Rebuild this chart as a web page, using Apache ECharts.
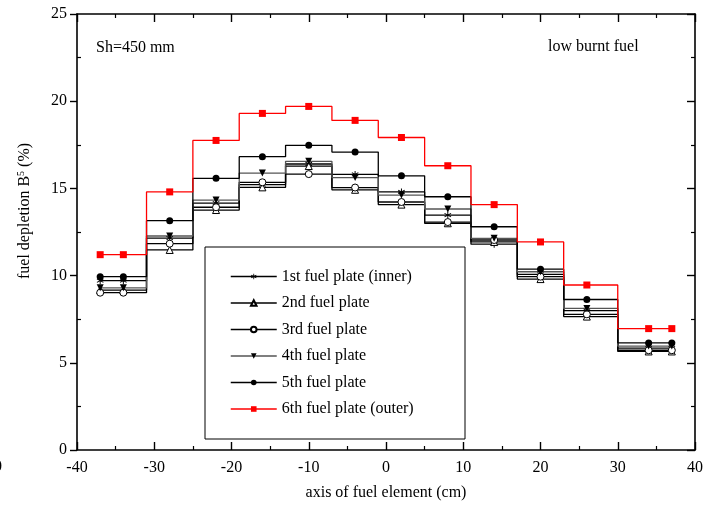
<!DOCTYPE html>
<html>
<head>
<meta charset="utf-8">
<title>fuel depletion along fuel element</title>
<script src="https://cdn.jsdelivr.net/npm/echarts@6/dist/echarts.min.js"></script>
<style>
  html, body { margin: 0; padding: 0; background: #fff; }
  #chart { width: 706px; height: 509px; }
</style>
</head>
<body>
<div id="chart"></div>
<script>
// Axial positions of the calculation points (cm)
const axialPos = [-37, -34, -28, -22, -16, -10, -4, 2, 8, 14, 20, 26, 34, 37];

// Fuel depletion per plate (%)
const plate1 = [9.71, 9.71, 12.15, 14.15, 15.22, 16.40, 15.80, 14.80, 13.47, 11.80, 10.07, 7.99, 5.84, 5.84];
const plate2 = [9.17, 9.17, 11.47, 13.76, 15.06, 16.28, 14.92, 14.07, 13.00, 11.93, 9.80, 7.65, 5.65, 5.65];
const plate3 = [9.02, 9.02, 11.83, 13.92, 15.35, 15.82, 15.05, 14.22, 13.07, 12.04, 9.94, 7.78, 5.72, 5.72];
const plate4 = [9.30, 9.30, 12.27, 14.33, 15.88, 16.55, 15.62, 14.62, 13.82, 12.14, 10.22, 8.12, 5.96, 5.96];
const plate5 = [9.94, 9.94, 13.15, 15.58, 16.82, 17.47, 17.08, 15.72, 14.52, 12.80, 10.37, 8.63, 6.14, 6.14];
const plate6 = [11.20, 11.20, 14.80, 17.75, 19.30, 19.70, 18.90, 17.92, 16.30, 14.07, 11.93, 9.46, 6.96, 6.96];

const seriesNames = [
  '1st fuel plate (inner)',
  '2nd fuel plate',
  '3rd fuel plate',
  '4th fuel plate',
  '5th fuel plate',
  '6th fuel plate (outer)'
];

// Axis ranges
const xMin = -40, xMax = 40, xStep = 10;
const yMin = 0, yMax = 25, yStep = 5;

const FONT = '"Liberation Serif", "Times New Roman", serif';

// Six-armed asterisk marker
const asteriskPath = 'path://' +
  'M-0.13,1 L0.13,1 L0.13,-1 L-0.13,-1 Z ' +
  'M0.801,0.613 L0.931,0.387 L-0.801,-0.613 L-0.931,-0.387 Z ' +
  'M-0.931,0.387 L-0.801,0.613 L0.931,-0.387 L0.801,-0.613 Z';

const downTriangle = 'path://M0,0 L2,0 L1,1.8 Z';

function pairs(values) {
  return axialPos.map((x, i) => [x, values[i]]);
}

function stepSeries(name, values, opts) {
  return {
    name: name,
    type: 'line',
    step: 'middle',
    data: pairs(values),
    symbol: opts.symbol,
    symbolSize: opts.size,
    showAllSymbol: true,
    animation: false,
    lineStyle: { color: opts.line, width: 1.3 },
    itemStyle: {
      color: opts.fill,
      borderColor: opts.border,
      borderWidth: opts.borderWidth
    },
    z: opts.z
  };
}

const chart = echarts.init(document.getElementById('chart'), null, { renderer: 'canvas' });

const axisLine = { show: true, onZero: false, lineStyle: { color: '#000', width: 1.6 } };
const majorTickIn = { show: true, inside: true, length: 8, lineStyle: { color: '#000', width: 1.4 } };
const minorTickIn = { show: true, splitNumber: 2, length: 4, lineStyle: { color: '#000', width: 1.2 } };

chart.setOption({
  backgroundColor: '#fff',
  animation: false,
  textStyle: { fontFamily: FONT },
  grid: { left: 77, right: 9, top: 14, bottom: 59, containLabel: false },
  xAxis: [
    {
      type: 'value', position: 'bottom',
      min: xMin, max: xMax, interval: xStep,
      axisLine: axisLine,
      axisTick: majorTickIn,
      minorTick: minorTickIn,
      axisLabel: { color: '#000', fontSize: 16, fontFamily: FONT, margin: 10 },
      splitLine: { show: false },
      name: 'axis of fuel element (cm)',
      nameLocation: 'middle', nameGap: 35,
      nameTextStyle: { color: '#000', fontSize: 16, fontFamily: FONT }
    },
    {
      type: 'value', position: 'top',
      min: xMin, max: xMax, interval: xStep,
      axisLine: axisLine,
      axisTick: majorTickIn,
      minorTick: minorTickIn,
      axisLabel: { show: false },
      splitLine: { show: false }
    }
  ],
  yAxis: [
    {
      type: 'value', position: 'left',
      min: yMin, max: yMax, interval: yStep,
      axisLine: axisLine,
      axisTick: { show: true, inside: false, length: 7, lineStyle: { color: '#000', width: 1.4 } },
      axisLabel: { color: '#000', fontSize: 16, fontFamily: FONT, margin: 10 },
      splitLine: { show: false }
    },
    {
      type: 'value', position: 'right',
      min: yMin, max: yMax, interval: yStep,
      axisLine: axisLine,
      axisTick: majorTickIn,
      minorTick: minorTickIn,
      axisLabel: { show: false },
      splitLine: { show: false }
    },
    {
      // inner minor ticks on the left frame
      type: 'value', position: 'left',
      min: yMin, max: yMax, interval: yStep,
      axisLine: { show: false, onZero: false },
      axisTick: { show: false, inside: true },
      minorTick: minorTickIn,
      axisLabel: { show: false },
      splitLine: { show: false }
    }
  ],
  legend: {
    orient: 'vertical',
    left: 225, top: 262.5,
    padding: 5,
    itemWidth: 46, itemHeight: 7, itemGap: 8.5,
    lineStyle: { width: 1.5 },
    textStyle: { color: '#000', fontSize: 16, fontFamily: FONT, lineHeight: 18 },
    data: seriesNames,
    selectedMode: false
  },
  graphic: [
    {
      type: 'rect', silent: true, z: 0,
      shape: { x: 205, y: 247, width: 260, height: 192 },
      style: { fill: 'none', stroke: '#000', lineWidth: 1 }
    },
    {
      type: 'text', silent: true,
      x: 96, y: 48,
      style: { text: 'Sh=450 mm', fill: '#000', font: '16px ' + FONT, verticalAlign: 'middle' }
    },
    {
      type: 'text', silent: true,
      x: 548, y: 47,
      style: { text: 'low burnt fuel', fill: '#000', font: '16px ' + FONT, verticalAlign: 'middle' }
    },
    {
      type: 'text', silent: true,
      x: 25, y: 211, rotation: Math.PI / 2,
      style: {
        text: 'fuel depletion B{sup|5} (%)',
        fill: '#000', font: '16px ' + FONT,
        align: 'center', verticalAlign: 'middle',
        rich: {
          sup: { fontSize: 10, fontFamily: FONT, verticalAlign: 'top', padding: [0, 0, 7, 0], fill: '#000' }
        }
      }
    },
    {
      type: 'text', silent: true,
      x: -6, y: 467,
      style: { text: '0', fill: '#000', font: '16px ' + FONT, verticalAlign: 'middle' }
    }
  ],
  series: [
    stepSeries(seriesNames[0], plate1, { symbol: asteriskPath, size: 7, line: '#000', fill: '#000', border: '#000', borderWidth: 0, z: 2 }),
    stepSeries(seriesNames[1], plate2, { symbol: 'triangle', size: 7, line: '#000', fill: '#fff', border: '#000', borderWidth: 1, z: 2 }),
    stepSeries(seriesNames[2], plate3, { symbol: 'circle', size: 7, line: '#000', fill: '#fff', border: '#000', borderWidth: 1, z: 2 }),
    stepSeries(seriesNames[3], plate4, { symbol: downTriangle, size: 7, line: '#555', fill: '#000', border: '#000', borderWidth: 0, z: 2 }),
    stepSeries(seriesNames[4], plate5, { symbol: 'circle', size: 7, line: '#000', fill: '#000', border: '#000', borderWidth: 0, z: 2 }),
    stepSeries(seriesNames[5], plate6, { symbol: 'rect', size: 7, line: '#ff0000', fill: '#ff0000', border: '#ff0000', borderWidth: 0, z: 3 })
  ]
});
</script>
</body>
</html>
